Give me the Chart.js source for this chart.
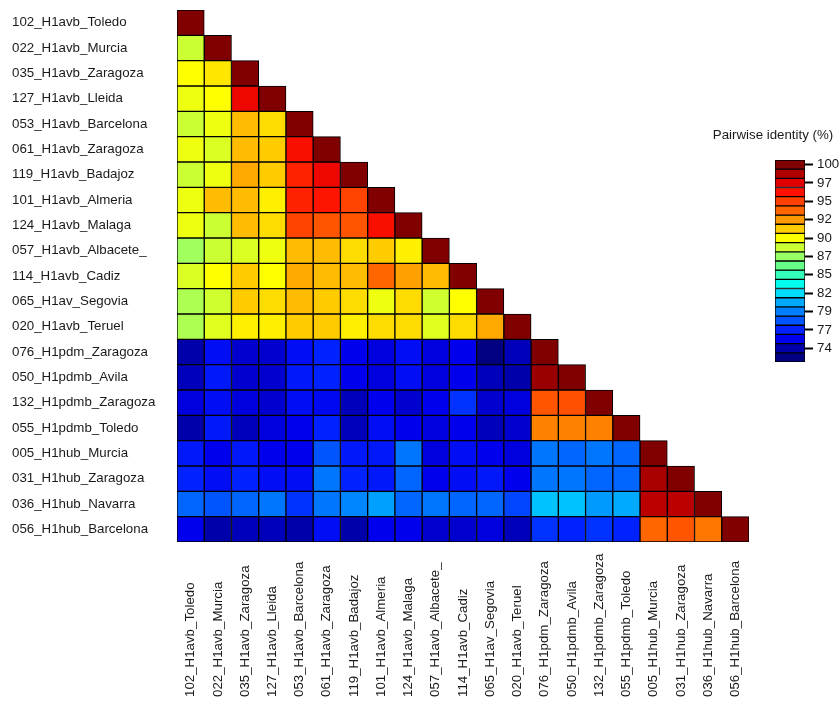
<!DOCTYPE html>
<html>
<head>
<meta charset="utf-8">
<script src="https://cdn.jsdelivr.net/npm/chart.js@4/dist/chart.umd.min.js"></script>
<style>
  html, body { margin: 0; padding: 0; background: #fff; }
  #wrap { position: relative; width: 840px; height: 701px; }
  #heat { position: absolute; left: 0; top: 0; }
  #scaleBar { position: absolute; left: 706px; top: 120px; }
</style>
</head>
<body>
<div id="wrap">
  <canvas id="heat" width="840" height="701"></canvas>
  <canvas id="scaleBar" width="134" height="270"></canvas>
</div>
<script>
// Sequence names (rows top to bottom, columns left to right)
const sequences = [
  '102_H1avb_Toledo', '022_H1avb_Murcia', '035_H1avb_Zaragoza', '127_H1avb_Lleida',
  '053_H1avb_Barcelona', '061_H1avb_Zaragoza', '119_H1avb_Badajoz', '101_H1avb_Almeria',
  '124_H1avb_Malaga', '057_H1avb_Albacete_', '114_H1avb_Cadiz', '065_H1av_Segovia',
  '020_H1avb_Teruel', '076_H1pdm_Zaragoza', '050_H1pdmb_Avila', '132_H1pdmb_Zaragoza',
  '055_H1pdmb_Toledo', '005_H1hub_Murcia', '031_H1hub_Zaragoza', '036_H1hub_Navarra',
  '056_H1hub_Barcelona'
];

// Pairwise identity (%), lower triangle: each row against the earlier sequences and itself
const s102Toledo    = [100];
const s022Murcia    = [88.3, 100];
const s035Zaragoza  = [89.6, 90.2, 100];
const s127Lleida    = [89.2, 89.6, 96.8, 100];
const s053Barcelona = [88.3, 89.2, 91.3, 90.5, 100];
const s061Zaragoza  = [89.2, 88.7, 91.3, 90.9, 96.3, 100];
const s119Badajoz   = [88.3, 89.2, 91.8, 90.9, 95.6, 96.8, 100];
const s101Almeria   = [89.2, 91.3, 91.3, 90.0, 95.6, 96.0, 94.7, 100];
const s124Malaga    = [89.2, 88.3, 91.3, 90.5, 94.7, 94.1, 94.1, 96.3, 100];
const s057Albacete  = [87.2, 88.3, 88.7, 89.2, 91.3, 91.3, 90.5, 90.9, 90.0, 100];
const s114Cadiz     = [88.7, 89.6, 90.9, 89.6, 91.8, 91.3, 91.3, 93.5, 92.0, 91.3, 100];
const s065Segovia   = [87.5, 88.4, 90.9, 90.5, 91.3, 90.9, 90.5, 89.2, 90.5, 88.4, 89.6, 100];
const s020Teruel    = [87.5, 88.8, 90.0, 90.0, 90.9, 90.9, 90.0, 90.5, 90.5, 88.8, 90.5, 91.8, 100];
const s076Zaragoza  = [74.0, 75.8, 74.7, 74.7, 75.8, 76.6, 75.3, 75.0, 75.8, 75.0, 75.3, 72.7, 74.3, 100];
const s050Avila     = [74.3, 76.2, 74.7, 74.7, 76.2, 76.6, 75.3, 75.0, 75.8, 75.0, 75.3, 74.3, 74.0, 99.3, 100];
const s132Zaragoza  = [75.0, 75.8, 75.0, 74.7, 75.8, 75.6, 74.3, 75.3, 74.7, 75.3, 77.0, 74.7, 75.0, 94.1, 94.3, 100];
const s055Toledo    = [74.0, 76.2, 74.3, 75.0, 75.3, 76.6, 74.3, 75.8, 75.3, 75.0, 75.3, 74.3, 74.7, 92.8, 92.8, 92.8, 100];
const s005Murcia    = [76.2, 75.3, 76.2, 75.3, 75.3, 77.9, 76.2, 76.2, 78.9, 75.0, 75.8, 75.3, 75.0, 78.9, 78.4, 78.9, 78.4, 100];
const s031Zaragoza  = [76.6, 75.8, 76.6, 75.8, 75.8, 78.9, 76.6, 76.2, 78.4, 75.3, 75.8, 76.2, 75.3, 78.9, 78.9, 78.4, 78.4, 98.9, 100];
const s036Navarra   = [78.4, 77.9, 78.4, 78.9, 77.0, 78.9, 79.4, 80.2, 78.4, 78.9, 78.4, 78.4, 77.5, 81.1, 81.1, 80.0, 80.5, 98.4, 98.4, 100];
const s056Barcelona = [75.3, 74.0, 74.3, 74.3, 74.0, 75.8, 74.0, 75.3, 75.3, 74.7, 74.7, 75.0, 74.3, 77.0, 76.6, 77.0, 76.6, 93.5, 94.1, 93.1, 100];

const identityRows = [
  s102Toledo, s022Murcia, s035Zaragoza, s127Lleida, s053Barcelona, s061Zaragoza,
  s119Badajoz, s101Almeria, s124Malaga, s057Albacete, s114Cadiz, s065Segovia,
  s020Teruel, s076Zaragoza, s050Avila, s132Zaragoza, s055Toledo, s005Murcia,
  s031Zaragoza, s036Navarra, s056Barcelona
];

// Colour key: band centres (%) from top to bottom, and their colours
const bandCentres = [100, 98.7, 97.4, 96.1, 94.8, 93.5, 92.2, 90.9, 89.6, 88.3, 87.0,
                     85.7, 84.4, 83.1, 81.8, 80.5, 79.2, 77.9, 76.6, 75.3, 74.0, 72.7];
const bandColours = ['#800000', '#b00000', '#e00000', '#ff1000', '#ff4000', '#ff6600',
                     '#ff9900', '#ffcc00', '#ffff00', '#ccff33', '#99ff66', '#66ff88',
                     '#33ffbb', '#00ffee', '#00ddff', '#00aaff', '#0080ff', '#0055ff',
                     '#0022ff', '#0000ee', '#0000aa', '#000080'];
const bandHalfWidth = 0.65;

// Colour key tick positions (%) and their printed labels
const keyTickValues = [100, 97.4, 94.8, 92.2, 89.6, 87.0, 84.4, 81.8, 79.2, 76.6, 74.0];
const keyTickLabels = ['100', '97', '95', '92', '90', '87', '85', '82', '79', '77', '74'];

function hexToRgb(h) {
  return [parseInt(h.slice(1, 3), 16), parseInt(h.slice(3, 5), 16), parseInt(h.slice(5, 7), 16)];
}

// Continuous colour ramp through the band colours
function colourFor(v) {
  const n = bandCentres.length;
  if (v >= bandCentres[0]) return bandColours[0];
  if (v <= bandCentres[n - 1]) return bandColours[n - 1];
  for (let i = 0; i < n - 1; i++) {
    const hi = bandCentres[i], lo = bandCentres[i + 1];
    if (v <= hi && v >= lo) {
      const t = (hi - v) / (hi - lo);
      const a = hexToRgb(bandColours[i]), b = hexToRgb(bandColours[i + 1]);
      const c = a.map((x, k) => Math.round(x + (b[k] - x) * t));
      return `rgb(${c[0]},${c[1]},${c[2]})`;
    }
  }
  return bandColours[n - 1];
}

const FONT = '"Liberation Sans", Arial, sans-serif';
Chart.defaults.font.family = FONT;
Chart.defaults.font.size = 13.3;
Chart.defaults.color = '#1a1a1a';

// One floating-bar dataset per row; each bar spans one row band in its column
const cellSets = identityRows.map((row, r) => ({
  label: sequences[r],
  data: sequences.map((_, c) => (c < row.length ? [r, r + 1] : null)),
  backgroundColor: sequences.map((_, c) => (c < row.length ? colourFor(row[c]) : 'rgba(0,0,0,0)')),
  borderColor: '#000',
  borderWidth: 1,
  borderSkipped: false,
  barPercentage: 1,
  categoryPercentage: 1,
  grouped: false
}));

// Vertical column names under the grid, reading upward from a common baseline
const columnNames = {
  id: 'columnNames',
  afterDraw(chart) {
    const ctx = chart.ctx, xs = chart.scales.x;
    ctx.save();
    ctx.font = `13.3px ${FONT}`;
    ctx.fillStyle = '#1a1a1a';
    ctx.textAlign = 'left';
    ctx.textBaseline = 'middle';
    sequences.forEach((name, i) => {
      ctx.save();
      ctx.translate(xs.getPixelForTick(i), 697);
      ctx.rotate(-Math.PI / 2);
      ctx.fillText(name, 0, 0);
      ctx.restore();
    });
    ctx.restore();
  }
};

new Chart(document.getElementById('heat'), {
  type: 'bar',
  data: { labels: sequences, datasets: cellSets },
  options: {
    responsive: false,
    animation: false,
    layout: { padding: { left: 12, top: 10, right: 91, bottom: 159 } },
    plugins: { legend: { display: false }, tooltip: { enabled: false } },
    scales: {
      x: {
        type: 'category',
        grid: { display: false },
        border: { display: false },
        ticks: { display: false },
        afterFit: (a) => { a.height = 0; }
      },
      y: {
        type: 'linear',
        reverse: true,
        min: 0,
        max: sequences.length,
        afterBuildTicks: (a) => { a.ticks = sequences.map((_, i) => ({ value: i + 0.5 })); },
        ticks: { callback: (v, i) => sequences[i], crossAlign: 'far', autoSkip: false, padding: 0 },
        grid: { display: false },
        border: { display: false },
        afterFit: (a) => { a.width = 165; }
      }
    }
  },
  plugins: [columnNames]
});

// Colour key: stacked bands with tick labels on the right
const n = bandCentres.length;
new Chart(document.getElementById('scaleBar'), {
  type: 'bar',
  data: {
    labels: [''],
    datasets: bandCentres.map((v, i) => ({
      data: [[v - bandHalfWidth, v + bandHalfWidth]],
      backgroundColor: bandColours[i],
      borderColor: '#000',
      borderWidth: 1,
      borderSkipped: false,
      barPercentage: 1,
      categoryPercentage: 1,
      grouped: false,
      xAxisID: 'x',
      yAxisID: 'y'
    }))
  },
  options: {
    responsive: false,
    animation: false,
    layout: { padding: { top: 0, right: 0, bottom: 28, left: 0 } },
    plugins: {
      legend: { display: false },
      tooltip: { enabled: false },
      title: {
        display: true,
        text: 'Pairwise identity (%)',
        color: '#1a1a1a',
        font: { size: 13.3, weight: 'normal', family: FONT },
        padding: { top: 7, bottom: 17 }
      }
    },
    scales: {
      x: { display: false },
      y: {
        type: 'linear',
        position: 'right',
        min: bandCentres[n - 1] - bandHalfWidth,
        max: bandCentres[0] + bandHalfWidth,
        afterBuildTicks: (a) => { a.ticks = keyTickValues.map((v) => ({ value: v })); },
        ticks: { callback: (v, i) => keyTickLabels[i], padding: 4, autoSkip: false },
        grid: { drawOnChartArea: false, drawTicks: true, tickLength: 8, tickWidth: 2, tickColor: '#000' },
        border: { display: false },
        afterFit: (a) => { a.width = 35; }
      },
      spacer: {
        type: 'linear',
        position: 'left',
        min: 0,
        max: 1,
        grid: { display: false },
        border: { display: false },
        ticks: { display: false },
        afterFit: (a) => { a.width = 69; }
      }
    }
  }
});
</script>
</body>
</html>
